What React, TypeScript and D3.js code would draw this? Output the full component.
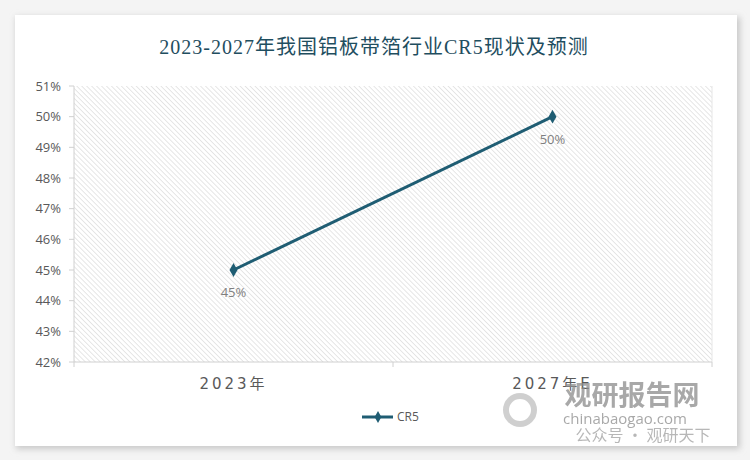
import React from "react";
import * as d3 from "d3";

const categories = ["2023年", "2027年E"];
const cr5Values = [45, 50];
const dataLabels = ["45%", "50%"];
const yTicks = [42, 43, 44, 45, 46, 47, 48, 49, 50, 51];
const seriesName = "CR5";
const title = "2023-2027年我国铝板带箔行业CR5现状及预测";

export default function App() {
  const W = 750, H = 460;
  const left = 74, right = 712, top = 86, bottom = 362;
  const x = d3.scaleBand<string>().domain(categories).range([left, right]);
  const y = d3.scaleLinear().domain([42, 51]).range([bottom, top]);
  const cx = (c: string) => (x(c) as number) + x.bandwidth() / 2;
  const line = d3.line<number>().x((_, i) => cx(categories[i])).y((d) => y(d));
  const lineColor = "#1f5d73";
  const diamond = d3.symbol().type(d3.symbolDiamond).size(55)();
  return (
    <svg width={W} height={H} style={{ position: "absolute", left: 0, top: 0 }}>
      <defs>
        <pattern id="hatch" width="3.5" height="3.5" patternUnits="userSpaceOnUse" patternTransform="rotate(-45)">
          <rect width="3.5" height="3.5" fill="#ffffff" />
          <line x1="0" y1="0" x2="0" y2="3.5" stroke="#d6d6d6" strokeWidth="1.2" />
        </pattern>
        <filter id="shadow" x="-5%" y="-5%" width="110%" height="110%">
          <feGaussianBlur stdDeviation="3" />
        </filter>
      </defs>
      <rect width={W} height={H} fill="#f4f4f4" />
      <rect x={16} y={17} width={724} height={432} fill="#c8c8c8" filter="url(#shadow)" />
      <rect x={15} y={15} width={722} height={431} fill="#ffffff" />
      <text x={374} y={54} textAnchor="middle" fontFamily="'Liberation Serif', 'DejaVu Serif', 'Noto Sans CJK SC', serif" fontSize={20} fill="#1f4e5f" style={{ letterSpacing: "1px" }}>{title}</text>
      <rect x={left} y={top} width={right - left} height={bottom - top} fill="url(#hatch)" />
      <line x1={right} y1={top} x2={right} y2={bottom} stroke="#e6e6e6" />
      <line x1={left} y1={top} x2={left} y2={bottom} stroke="#d0d0d0" />
      <line x1={left} y1={bottom} x2={right} y2={bottom} stroke="#d0d0d0" />
      {yTicks.map((t) => (
        <g key={t}>
          <line x1={left - 5} x2={left} y1={y(t)} y2={y(t)} stroke="#d0d0d0" />
          <text x={61} y={y(t)} dy="0.35em" textAnchor="end" fontFamily="'Open Sans', 'Noto Sans', sans-serif" fontSize={13} fill="#595959">{t}%</text>
        </g>
      ))}
      {[left, ...categories.map((c) => (x(c) as number) + x.bandwidth())].map((v, i) => (
        <line key={i} x1={v} x2={v} y1={bottom} y2={bottom + 5} stroke="#d0d0d0" />
      ))}
      {categories.map((c) => (
        <text key={c} x={cx(c)} y={389} textAnchor="middle" fontFamily="'DejaVu Sans', 'Noto Sans CJK SC', sans-serif" fontSize={15} fill="#595959" style={{ letterSpacing: "3px" }}>{c}</text>
      ))}
      <path d={line(cr5Values) as string} fill="none" stroke={lineColor} strokeWidth={3} />
      {cr5Values.map((v, i) => (
        <g key={i}>
          <path d={diamond as string} transform={`translate(${cx(categories[i])},${y(v)})`} fill={lineColor} />
          <text x={cx(categories[i])} y={y(v) + 27} textAnchor="middle" fontFamily="'Open Sans', 'Noto Sans', sans-serif" fontSize={13} fill="#7f7f7f">{dataLabels[i]}</text>
        </g>
      ))}
      <line x1={362} x2={393} y1={417} y2={417} stroke={lineColor} strokeWidth={3} />
      <path d={d3.symbol().type(d3.symbolDiamond).size(40)() as string} transform="translate(378,417)" fill={lineColor} />
      <text x={397} y={417} dy="0.35em" fontFamily="'Open Sans', 'Noto Sans', sans-serif" fontSize={12} fill="#595959">{seriesName}</text>
      <g opacity={0.75}>
        <text x={632} y={405} textAnchor="middle" fontFamily="'Noto Sans CJK SC', sans-serif" fontSize={27} fontWeight="bold" fill="#8c8c8c">观研报告网</text>
        <text x={625} y={424} textAnchor="middle" fontFamily="'Open Sans', sans-serif" fontSize={15} fill="#8c8c8c">chinabaogao.com</text>
        <text x={643} y={441} textAnchor="middle" fontFamily="'Noto Sans CJK SC', sans-serif" fontSize={16} fill="#a0a0a0">公众号 · 观研天下</text>
        <circle cx={520} cy={410} r={14} fill="none" stroke="#c0c0c0" strokeWidth={6} />
      </g>
    </svg>
  );
}
